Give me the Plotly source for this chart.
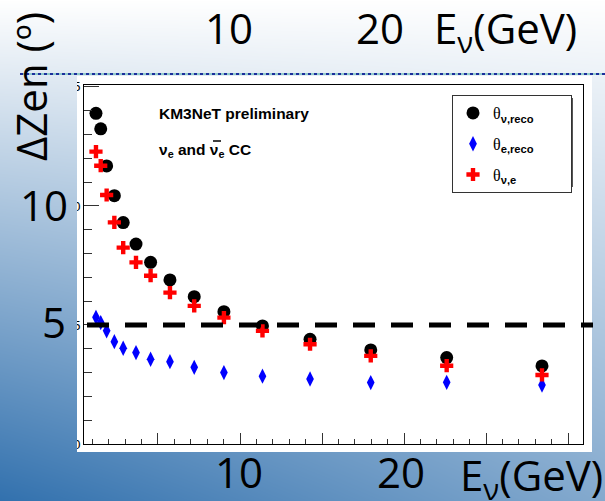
import zlib, struct, base64
import numpy as np
import plotly.graph_objects as go

# ---------------- data ----------------
energy = [1.22, 1.51, 1.87, 2.34, 2.88, 3.66, 4.55, 5.73, 7.21, 9.02,
          11.37, 14.27, 17.97, 22.60, 28.41]
theta_nu_reco = [13.89, 13.24, 11.68, 10.43, 9.30, 8.40, 7.63, 6.89, 6.19, 5.56,
                 4.96, 4.40, 3.95, 3.63, 3.28]
theta_e_reco = [5.32, 5.10, 4.76, 4.30, 4.02, 3.84, 3.56, 3.46, 3.22, 3.00,
                2.85, 2.73, 2.58, 2.59, 2.48]
theta_nu_e = [12.28, 11.69, 10.46, 9.31, 8.25, 7.63, 7.07, 6.36, 5.80, 5.31,
              4.75, 4.19, 3.70, 3.29, 2.90]
threshold = 5
x_ticks = [5, 10, 15, 20, 25, 30]
y_ticks = [0, 5, 10, 15]

# ---------------- geometry ----------------
W, H = 605, 501
ML, MR, MT, MB = 84, 22, 85, 57
X_RANGE = [0.49, 30.91]
Y_RANGE = [0.0, 15.08]
PW, PH = W - ML - MR, H - MT - MB


def px(x):
    return (x - ML) / PW


def py(y):
    return (H - MB - y) / PH


# ---------------- slide background (gradient with a window for the chart image) ----------------
yy, xx = np.mgrid[0:H, 0:W].astype(float)
t = np.clip((yy / H) * (1 - 0.4 * xx / W), 0, 1)[..., None]
dark = np.array([50, 113, 174], float)
rgb = 255 * (1 - t) + dark * t
alpha = np.full((H, W, 1), 255.0)
alpha[76:452, 77:592] = 0
rgba = np.concatenate([rgb, alpha], axis=2).astype(np.uint8)


def png_uri(a):
    h, w, _ = a.shape
    f = a.astype(np.int16)
    f[:, 1:, :] = (a[:, 1:, :].astype(np.int16) - a[:, :-1, :].astype(np.int16)) % 256
    f = f.astype(np.uint8)
    raw = b"".join(b"\x01" + f[i].tobytes() for i in range(h))

    def chunk(tag, data):
        return (struct.pack(">I", len(data)) + tag + data
                + struct.pack(">I", zlib.crc32(tag + data) & 0xFFFFFFFF))
    png = (b"\x89PNG\r\n\x1a\n"
           + chunk(b"IHDR", struct.pack(">IIBBBBB", w, h, 8, 6, 0, 0, 0))
           + chunk(b"IDAT", zlib.compress(raw, 9))
           + chunk(b"IEND", b""))
    return "data:image/png;base64," + base64.b64encode(png).decode()


SUB = "<sub><span style=\"font-family:Liberation Sans;font-weight:bold\">{}</span></sub>"
PAD = "\u00a0" * 8

fig = go.Figure()
fig.add_trace(go.Scatter(
    x=energy, y=theta_nu_reco, mode="markers", legendgroup="a",
    name="θ" + SUB.format("ν,reco") + PAD,
    marker=dict(symbol="circle", size=13, color="black")))
fig.add_trace(go.Scatter(
    x=energy, y=theta_e_reco, mode="markers", legendgroup="b",
    name="θ" + SUB.format("e,reco") + PAD,
    marker=dict(symbol="diamond-tall", size=11, color="#0000ff")))
fig.add_trace(go.Scatter(
    x=energy, y=theta_nu_e, mode="markers", legendgroup="c",
    name="θ" + SUB.format("ν,e"),
    marker=dict(symbol="cross", size=11, color="#ff0000")))

axis_common = dict(showline=True, linecolor="black", linewidth=1, mirror=True,
                   ticks="inside", tickwidth=1, tickcolor="#333", showgrid=False,
                   zeroline=False, tickfont=dict(family="Liberation Sans", size=13, color="black"))
fig.update_xaxes(range=X_RANGE, tickvals=x_ticks, ticklen=11,
                 minor=dict(ticks="inside", ticklen=5, dtick=1, tick0=0, tickcolor="#333"),
                 **axis_common)
fig.update_yaxes(range=Y_RANGE, tickvals=y_ticks, ticklen=15,
                 minor=dict(ticks="inside", ticklen=8, dtick=1, tick0=0, tickcolor="#333"),
                 **axis_common)

yth = (threshold - Y_RANGE[0]) / (Y_RANGE[1] - Y_RANGE[0])
shapes = [
    # threshold line (dashed, extends past the frame)
    dict(type="line", xref="paper", yref="paper", x0=px(87), x1=px(593), y0=yth, y1=yth,
         line=dict(color="black", width=5, dash="22px,16px"), layer="above"),
    # legend shadow
    dict(type="rect", xref="paper", yref="paper", x0=px(454), x1=px(573),
         y0=py(187), y1=py(98), fillcolor="#555", line=dict(width=0), layer="above"),
    # overbar of the anti-neutrino symbol
    dict(type="line", xref="paper", yref="paper", x0=px(213), x1=px(221),
         y0=py(141), y1=py(141), line=dict(color="black", width=1.5), layer="above"),
    # slide dotted rule
    dict(type="line", xref="paper", yref="paper", x0=px(20), x1=px(605),
         y0=py(74), y1=py(74), line=dict(color="#3aa6a0", width=1), layer="above"),
    dict(type="line", xref="paper", yref="paper", x0=px(20), x1=px(605),
         y0=py(74), y1=py(74), line=dict(color="#1c2f9c", width=2, dash="dot"), layer="above"),
]

big = dict(family="Open Sans", size=42, color="black")
small_bold = dict(family="Liberation Sans", size=15.5, color="black")
annotations = [
    dict(text="<b>KM3NeT preliminary</b>", x=px(157), y=py(113), xanchor="left", yanchor="middle",
         font=small_bold),
    dict(text="<b>ν<sub>e</sub> and ν<sub>e</sub> CC</b>", x=px(157), y=py(150),
         xanchor="left", yanchor="middle", font=small_bold),
    # slide overlay texts
    dict(text="ΔZen (º)", x=px(30), y=py(87), textangle=-90, xanchor="center", yanchor="middle", font=big),
    dict(text="10", x=px(70), y=py(204), xanchor="right", yanchor="middle", font=big),
    dict(text="5", x=px(68), y=py(321), xanchor="right", yanchor="middle", font=big),
    dict(text="10", x=px(239), y=py(471), xanchor="center", yanchor="middle", font=big),
    dict(text="20", x=px(401), y=py(471), xanchor="center", yanchor="middle", font=big),
    dict(text="E<sub>ν</sub>(GeV)", x=px(531), y=py(478), xanchor="center", yanchor="middle", font=big),
    dict(text="10", x=px(229), y=py(27), xanchor="center", yanchor="middle", font=big),
    dict(text="20", x=px(380), y=py(27), xanchor="center", yanchor="middle", font=big),
    dict(text="E<sub>ν</sub>(GeV)", x=px(505), y=py(30), xanchor="center", yanchor="middle", font=big),
]
for a in annotations:
    a.update(xref="paper", yref="paper", showarrow=False)

fig.update_layout(
    width=W, height=H, margin=dict(l=ML, r=MR, t=MT, b=MB, pad=0),
    paper_bgcolor="white", plot_bgcolor="white",
    showlegend=True,
    legend=dict(x=px(452), y=py(95), xanchor="left", yanchor="top",
                bgcolor="white", bordercolor="#333", borderwidth=1,
                font=dict(family="Liberation Serif", size=16, color="black"),
                tracegroupgap=7, itemwidth=30),
    shapes=shapes, annotations=annotations,
    images=[dict(source=png_uri(rgba), xref="paper", yref="paper",
                 x=px(0), y=py(0), sizex=W / PW, sizey=H / PH,
                 xanchor="left", yanchor="top", sizing="stretch", layer="above")],
)

fig.write_html("out.html")
